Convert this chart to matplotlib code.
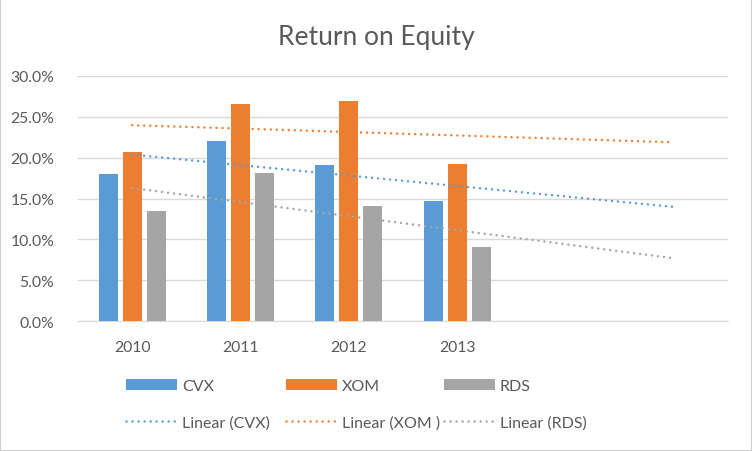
import numpy as np
import matplotlib
matplotlib.use("Agg")
import matplotlib.pyplot as plt
from matplotlib.patches import Rectangle

years = ["2010", "2011", "2012", "2013"]
cvx = [18.0, 22.0, 19.1, 14.7]
xom = [20.7, 26.6, 26.9, 19.2]
rds = [13.5, 18.1, 14.1, 9.1]
n_forward = 2  # trendline forecast periods

plt.rcParams['font.family'] = ['Lato', 'DejaVu Sans']
txt = '#595959'
grid = '#D9D9D9'
colors = ['#5B9BD5', '#ED7D31', '#A5A5A5']

fig = plt.figure(figsize=(7.52, 4.52), dpi=100)
ax = fig.add_axes([78/752, 1-322/452, 650/752, (322-77)/452])

x = np.arange(1, len(years) + 1)
ncat = len(years) + n_forward
w = 0.175
step = 0.2216
series = [("CVX", cvx), ("XOM", xom), ("RDS", rds)]
bars = []
for i, (name, vals) in enumerate(series):
    b = ax.bar(x + (i - 1) * step, np.array(vals) / 100, width=w,
               color=colors[i], label=name, zorder=3)
    bars.append(b)

trend_labels = ["Linear (CVX)", "Linear (XOM )", "Linear (RDS)"]
lines = []
xt = np.linspace(1, ncat, 50)
dots = (0, (0.01, 2.4))
for i, (name, vals) in enumerate(series):
    k, c = np.polyfit(x, np.array(vals) / 100, 1)
    ln, = ax.plot(xt, k * xt + c, color=colors[i], lw=1.8,
                  linestyle=dots, dash_capstyle='round', zorder=4,
                  label=trend_labels[i])
    lines.append(ln)

ax.set_xlim(0.5, ncat + 0.5)
ax.set_ylim(0, 0.30)
ax.set_yticks(np.arange(0, 0.301, 0.05))
ax.set_yticklabels([f"{v*100:.1f}%" for v in np.arange(0, 0.301, 0.05)])
ax.set_xticks(x)
ax.set_xticklabels(years)
ax.tick_params(length=0, labelsize=11.3, colors=txt)
ax.tick_params(axis='y', pad=17)
ax.tick_params(axis='x', pad=14)
ax.grid(axis='y', color=grid, lw=1, zorder=0)
for s in ['top', 'right', 'left']:
    ax.spines[s].set_visible(False)
ax.spines['bottom'].set_color(grid)

fig.text(0.5, 1 - 37/452, "Return on Equity", ha='center', va='center',
         fontsize=19, color=txt)

# one legend per column, Excel-style fixed column positions
col_x = [118, 278, 436]
for i in range(3):
    leg = fig.legend([bars[i], lines[i]], [series[i][0], trend_labels[i]],
                     loc='upper left', frameon=False,
                     bbox_to_anchor=(col_x[i] / 752, 1 - 372/452),
                     fontsize=11.5, labelcolor=txt,
                     handlelength=3.2, handleheight=0.65, handletextpad=0.3,
                     labelspacing=1.4, borderpad=0)

fig.patches.append(Rectangle((0, 0), 1, 1, transform=fig.transFigure,
                             fill=False, edgecolor='#D0D0D0', lw=1.5))

fig.savefig("out.png", dpi=100)
